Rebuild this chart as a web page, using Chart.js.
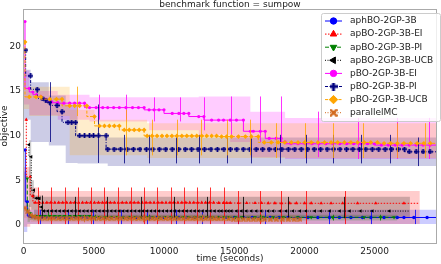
<!DOCTYPE html>
<html><head><meta charset="utf-8">
<script src="https://cdn.jsdelivr.net/npm/chart.js@4.4.0/dist/chart.umd.min.js"></script>
<style>html,body{margin:0;padding:0;background:#fff;overflow:hidden}canvas{display:block}</style>
</head><body>
<canvas id="c" width="441" height="264"></canvas>
<script>
// ---------------- data ----------------
const TITLE = 'benchmark function = sumpow';
const X_LABEL = 'time (seconds)';
const Y_LABEL = 'objective';
const X_TICKS = [0, 5000, 10000, 15000, 20000, 25000];
const Y_TICKS = [0, 5, 10, 15, 20];
const X_RANGE = [-50, 29441];
const Y_RANGE = [-2.02, 24.2];
const SERIES_NAMES = ['aphBO-2GP-3B','apBO-2GP-3B-EI','apBO-2GP-3B-PI','apBO-2GP-3B-UCB','pBO-2GP-3B-EI','pBO-2GP-3B-PI','pBO-2GP-3B-UCB','parallelMC'];

// points [time, objective]
const aphBO = [[113,8.4],[255,2.6],[424,1.0],[587,0.93],[799,0.9],[1011,0.9],[1294,0.88],[1577,0.88],[1860,0.88],[2214,0.87],[2567,0.87],[2921,0.87],[3274,0.86],[3699,0.86],[4123,0.86],[4547,0.86],[4971,0.86],[5396,0.85],[5820,0.85],[6245,0.85],[6669,0.85],[7093,0.85],[7517,0.85],[8012,0.85],[8507,0.85],[9002,0.85],[9497,0.85],[9993,0.85],[10488,0.85],[11054,0.85],[11619,0.85],[12185,0.85],[12751,0.85],[13317,0.85],[13883,0.85],[14448,0.85],[15014,0.85],[15651,0.85],[16287,0.85],[16924,0.85],[17560,0.85],[18197,0.85],[18833,0.85],[19540,0.84],[20248,0.84],[20955,0.84],[21782,0.84],[22489,0.84],[23309,0.84],[24137,0.84],[24724,0.84],[25671,0.84],[26613,0.84],[27086,0.84],[27793,0.84],[28734,0.84]];
const apBO_EI = [[184,11.8],[467,5.4],[658,3.25],[820,2.5],[1082,2.5],[1365,2.5],[1648,2.5],[1931,2.5],[2214,2.5],[2496,2.5],[2779,2.5],[3062,2.5],[3345,2.5],[3628,2.5],[3911,2.5],[4194,2.5],[4477,2.5],[4760,2.5],[5042,2.5],[5325,2.5],[5608,2.5],[5891,2.5],[6174,2.5],[6457,2.5],[6740,2.5],[7023,2.5],[7305,2.5],[7588,2.5],[7871,2.5],[8154,2.5],[8437,2.5],[8720,2.5],[9002,2.5],[9285,2.5],[9568,2.5],[9851,2.5],[10134,2.5],[10417,2.5],[10700,2.5],[10983,2.5],[11266,2.5],[11549,2.5],[11832,2.5],[12114,2.5],[12397,2.5],[12680,2.5],[12963,2.5],[13246,2.5],[13529,2.5],[13897,2.48],[14236,2.48],[14469,2.48],[14710,2.48],[15297,2.46],[15884,2.46],[16478,2.46],[16945,2.46],[17419,2.45],[17892,2.45],[18359,2.45],[18953,2.44],[19420,2.44],[20014,2.44],[20481,2.44],[21188,2.43],[21895,2.43],[22723,2.43],[23784,2.43],[25078,2.43],[27086,2.43]];
const apBO_PI = [[255,5.2],[446,1.3],[587,1.0],[870,1.0],[1153,1.0],[1506,1.0],[1860,1.0],[2214,1.0],[2567,1.0],[2921,1.0],[3274,1.0],[3628,1.0],[3981,1.0],[4335,1.0],[4689,1.0],[5042,0.88],[5396,0.88],[5820,0.88],[6245,0.88],[6669,0.88],[7093,0.87],[7517,0.87],[7942,0.87],[8366,0.87],[8790,0.87],[9215,0.87],[9639,0.87],[10063,0.87],[10488,0.87],[10912,0.87],[11336,0.87],[11761,0.87],[12185,0.87],[12609,0.87],[13034,0.87],[13458,0.87],[13883,0.86],[14236,0.86],[14590,0.86],[15062,0.86],[15530,0.86],[16478,0.86],[17065,0.86],[17772,0.86],[18479,0.86],[19540,0.86],[20481,0.86],[22015,0.86],[24257,0.86],[25431,0.86],[26379,0.86]];
const apBO_UCB = [[375,9.0],[537,7.65],[728,3.9],[891,3.0],[1011,3.0],[1131,3.0],[1273,2.0],[1436,1.57],[1719,1.57],[2001,1.57],[2284,1.57],[2567,1.57],[2850,1.57],[3133,1.57],[3416,1.57],[3699,1.57],[3981,1.57],[4264,1.57],[4547,1.57],[4830,1.57],[5113,1.57],[5396,1.57],[5679,1.57],[5962,1.57],[6245,1.57],[6527,1.57],[6810,1.57],[7093,1.57],[7376,1.57],[7659,1.57],[7942,1.57],[8225,1.57],[8507,1.57],[8790,1.57],[9073,1.57],[9356,1.57],[9639,1.57],[9922,1.57],[10205,1.57],[10488,1.57],[10771,1.57],[11054,1.57],[11336,1.57],[11619,1.57],[11902,1.57],[12185,1.57],[12468,1.57],[12751,1.57],[13034,1.57],[13317,1.57],[13600,1.57],[13883,1.56],[14095,1.56],[14378,1.56],[14590,1.56],[14802,1.56],[15156,1.56],[15509,1.56],[15863,1.56],[16216,1.56],[16570,1.56],[16924,1.56],[17419,1.56],[17772,1.56],[18267,1.56],[18691,1.56],[19186,1.56],[19681,1.56],[20106,1.56],[20742,1.56],[21167,1.56],[21804,1.56],[22511,1.56],[23218,1.56],[23996,1.56],[24844,1.56],[26047,1.56]];
const pBO_EI = [[92,22.8],[396,15.3],[658,14.9],[919,14.6],[1223,14.4],[1577,14.1],[2001,13.8],[2426,13.7],[2850,13.65],[3274,13.65],[3628,13.65],[3981,13.65],[4335,13.65],[4689,13.15],[5163,13.15],[5629,13.15],[5983,13.15],[6407,13.15],[6810,13.15],[7284,13.15],[7751,13.15],[8175,13.15],[8578,13.15],[8932,12.9],[9286,12.9],[9639,12.9],[9993,12.9],[10580,12.5],[11054,12.5],[11407,12.5],[11761,12.5],[12468,12.15],[12836,12.15],[13387,11.75],[13883,11.75],[14236,11.75],[14710,11.75],[15156,11.75],[15651,11.75],[16146,10.5],[16358,10.5],[16853,10.5],[17207,10.5],[17489,9.7],[17984,9.7],[18338,9.7],[18621,9.3],[19045,9.1],[19540,9.1],[20035,9.1],[20530,9.1],[21025,9.1],[21520,9.1],[22015,9.1],[22511,9.1],[23006,9.1],[23501,9.1],[23996,9.1],[24491,9.1],[24986,9.1],[25481,8.95],[25976,8.95],[26471,8.95],[26966,8.95],[27461,8.95],[27956,8.95],[28451,8.95],[28946,8.95]];
const pBO_PI = [[141,19.6],[495,16.7],[962,15.2],[1315,14.2],[1577,14.0],[1860,13.75],[2376,13.4],[2730,12.7],[3154,11.5],[3416,11.5],[3699,11.5],[3981,10.0],[4335,10.0],[4689,10.0],[4971,10.0],[5325,10.0],[5870,10.0],[5983,8.5],[6440,8.5],[6900,8.5],[7360,8.5],[7820,8.5],[8280,8.5],[8740,8.5],[9200,8.5],[9660,8.5],[10120,8.5],[10580,8.5],[11040,8.5],[11500,8.5],[11960,8.5],[12420,8.5],[12880,8.5],[13340,8.5],[13800,8.5],[14260,8.5],[14720,8.5],[15180,8.5],[15640,8.5],[16100,8.5],[16560,8.5],[17020,8.5],[17480,8.5],[17940,8.5],[18390,8.5],[18850,8.5],[19310,8.5],[19770,8.5],[20230,8.5],[20690,8.5],[21150,8.5],[21610,8.5],[22070,8.5],[22530,8.5],[22990,8.5],[23450,8.5],[23910,8.5],[24370,8.5],[24830,8.5],[25290,8.5],[25750,8.5],[26210,8.5],[26670,8.5],[27130,8.5],[27460,8.2],[27955,8.2],[28450,8.2],[28945,8.2]];
const pBO_UCB = [[92,20.5],[396,14.35],[884,14.35],[1223,14.35],[1860,14.1],[2334,14.1],[2730,14.1],[3274,13.35],[3628,13.35],[3981,13.35],[4498,13.35],[5042,12.15],[5396,11.1],[5750,11.1],[6103,11.1],[6457,11.1],[6810,11.1],[7164,10.65],[7517,10.65],[7871,10.65],[8225,10.65],[8578,10.65],[8790,9.98],[9144,9.98],[9497,9.98],[9851,9.98],[10205,9.98],[10558,9.98],[10912,9.98],[11266,9.98],[11619,9.98],[11973,9.98],[12327,9.98],[12680,9.98],[13034,9.98],[13387,9.98],[13741,9.98],[14095,9.9],[14448,9.9],[14802,9.9],[15297,9.9],[15792,9.9],[16216,9.9],[16711,9.9],[17136,9.25],[17631,9.25],[18126,9.25],[18599,9.25],[19066,9.25],[19540,9.25],[20014,9.25],[20481,9.25],[20955,9.25],[21428,9.25],[21895,9.25],[22369,9.25],[22843,9.25],[23309,9.25],[23784,9.25],[24257,9.25],[24724,9.25],[25198,9.25],[25671,9.15],[26138,9.15],[26613,9.15],[27086,9.15],[27553,9.15],[28027,9.15],[28500,9.15],[28967,9.15]];
const parallelMC = [[92,1.9],[304,1.5],[516,1.1],[728,0.95],[941,0.85],[1153,0.78],[1506,0.75],[1825,0.75],[2143,0.75],[2461,0.75],[2779,0.75],[3098,0.75],[3416,0.75],[3734,0.75],[4052,0.75],[4370,0.75],[4689,0.75],[5007,0.75],[5325,0.75],[5643,0.74],[5962,0.74],[6280,0.74],[6598,0.74],[6916,0.74],[7235,0.74],[7553,0.74],[7871,0.74],[8189,0.74],[8507,0.74],[8826,0.72],[9144,0.72],[9462,0.72],[9780,0.72],[10099,0.72],[10417,0.72],[10735,0.7],[11054,0.7],[11372,0.7],[11690,0.7],[12008,0.7],[12327,0.7],[12645,0.7],[12963,0.7],[13281,0.7],[13600,0.7],[13883,0.68],[14236,0.68],[14590,0.68],[14943,0.66],[15297,0.66],[15651,0.66],[16004,0.65],[16358,0.65],[16711,0.65],[17136,0.64],[17560,0.64],[17984,0.64],[18408,0.64],[18833,0.64],[19257,0.64],[19681,0.64]];

// where each line continues past its last marker
const LINE_END = [29441, 28146, 26613, 27510, 29441, 29441, 29441, null];

// spread bands [time, low, high] (step after)
const aphBO_band = [[0,-1.7,13.2],[255,-0.8,6.0],[424,0.1,1.9],[799,0.1,1.7],[29441,0.1,1.7]];
const apBO_EI_band = [[0,-0.2,12.9],[467,-0.2,6.5],[1011,0.1,4.2],[14590,0.1,3.8],[28217,0.1,3.8]];
const apBO_PI_band = [[255,2.8,7.5],[446,0.3,2.3],[658,0.55,1.45],[5042,0.5,1.15],[26613,0.5,1.15]];
const apBO_UCB_band = [[375,4.0,14.0],[537,2.0,9.5],[728,1.7,5.0],[1273,0.7,3.3],[1436,0.75,3.15],[27510,0.75,3.15]];
const pBO_EI_band = [[0,17.5,23.8],[396,13.5,17.3],[2426,12.3,15.0],[4689,11.8,14.6],[8932,11.6,14.3],[12468,10.6,14.3],[14710,10.1,14.4],[16146,9.3,14.4],[18621,7.6,12.7],[23006,7.4,12.0],[29441,7.4,12.0]];
const pBO_PI_band = [[0,14,23],[495,11.8,17.4],[1789,9.3,16.0],[2991,8.9,14.5],[3840,6.95,13.5],[5983,6.9,10.1],[27460,6.6,9.8],[29441,6.6,9.8]];
const pBO_UCB_band = [[0,16.5,22.5],[396,13.0,15.5],[3274,12.2,15.5],[5042,7.8,12.9],[8790,7.8,11.8],[17136,7.5,11.4],[29441,7.5,11.4]];
const parallelMC_band = [[0,1.0,2.9],[304,0.8,2.2],[516,0.5,1.6],[941,0.35,1.2],[1153,0.3,1.15],[19681,0.3,1.15]];

// times where error bars are drawn
const aphBO_err = [1153,3133,4901,6952,8790,10841,12680,15297,17207,21782,24724,27886];
const apBO_EI_err = [1032,1980,2921,3861,4809,5749,6690,7638,8578,9518,10466,11407,12347,13295,14236,15297,16832,18359,20127,22913];
const apBO_PI_err = [1719,5113,8932,12680,16852,22015,25410];
const apBO_UCB_err = [1273,3628,5962,8366,10700,13034,15651,18833,22843];
const pBO_EI_err = [5396,7284,9286,11124,12836,14802,16853,18338,20955,23784,26613,28876];
const pBO_PI_err = [1860,5325,7164,8932,10841,12468,14448,16216,18267,20106,22015,23996,26117,28097];
const pBO_UCB_err = [3769,7305,9144,10912,12609,14448,16146,17984,20035,22015,24137,26613,28593];
const parallelMC_err = [4260,8500,12700,16900];

// ---------------- styling ----------------
function markerCanvas(kind, size, color){
  const c = document.createElement('canvas'); c.width = size; c.height = size;
  const g = c.getContext('2d'); g.fillStyle = color; g.strokeStyle = color;
  const h = size/2;
  if (kind === 'plus'){
    const a = size*0.36;
    g.fillRect(h-a/2, 0, a, size); g.fillRect(0, h-a/2, size, a);
  } else {
    g.lineWidth = size*0.3; g.lineCap = 'butt';
    g.beginPath(); g.moveTo(0.5,0.5); g.lineTo(size-0.5,size-0.5); g.moveTo(size-0.5,0.5); g.lineTo(0.5,size-0.5); g.stroke();
  }
  return c;
}
const STYLE = [
  {color:'#0000ff', rgb:'0,0,255',   dash:[],          marker:'circle',  rot:0,   r:1.7, lr:3.2},
  {color:'#ff0000', rgb:'255,0,0',   dash:[1.5,1.5],   marker:'triangle',rot:0,   r:2.1, lr:3.8},
  {color:'#008000', rgb:'0,128,0',   dash:[4,2],       marker:'triangle',rot:180, r:2.1, lr:3.8},
  {color:'#000000', rgb:'0,0,0',     dash:[1,1.5],     marker:'triangle',rot:-90, r:2.1, lr:3.8},
  {color:'#ff00ff', rgb:'255,0,255', dash:[],          marker:'circle',  rot:0,   r:1.6, lr:3.2},
  {color:'#000080', rgb:'0,0,128',   dash:[3,1.5,1,1.5], marker:'plus',  rot:0,   r:2.5, lr:3.6},
  {color:'#ffa500', rgb:'255,165,0', dash:[3,1.5],     marker:'rectRot', rot:0,   r:2.4, lr:4.2},
  {color:'#d2691e', rgb:'210,105,30',dash:[1,1.5],     marker:'x',       rot:0,   r:2.5, lr:3.6},
];
const POINTS = [aphBO, apBO_EI, apBO_PI, apBO_UCB, pBO_EI, pBO_PI, pBO_UCB, parallelMC];
const BANDS = [aphBO_band, apBO_EI_band, apBO_PI_band, apBO_UCB_band, pBO_EI_band, pBO_PI_band, pBO_UCB_band, parallelMC_band];
const ERRS = [aphBO_err, apBO_EI_err, apBO_PI_err, apBO_UCB_err, pBO_EI_err, pBO_PI_err, pBO_UCB_err, parallelMC_err];

STYLE.forEach(s => {
  if (s.marker === 'plus' || s.marker === 'x') {
    s.ps = markerCanvas(s.marker, 5, s.color);
    s.lps = markerCanvas(s.marker, 8, s.color);
  } else { s.ps = s.marker; s.lps = s.marker; }
});

const datasets = [];
SERIES_NAMES.forEach((name, i) => {
  const st = STYLE[i], band = BANDS[i], pts = POINTS[i];
  const base = datasets.length;
  datasets.push({ _kind:'lo', _s:i, data: band.map(b => ({x:b[0], y:b[1]})), stepped:'after',
    borderColor:'transparent', borderWidth:0, pointRadius:0, fill:false, order: 100 - base });
  datasets.push({ _kind:'hi', _s:i, data: band.map(b => ({x:b[0], y:b[2]})), stepped:'after',
    borderColor:'transparent', borderWidth:0, pointRadius:0, fill:'-1',
    backgroundColor:`rgba(${st.rgb},0.2)`, order: 100 - base - 1 });
  const data = pts.map(p => ({x:p[0], y:p[1]}));
  const nMark = data.length;
  if (LINE_END[i] !== null) data.push({x: LINE_END[i], y: pts[pts.length-1][1]});
  datasets.push({ _kind:'line', _s:i, label:name, data, stepped:'after',
    borderColor: st.color, borderWidth: 1, borderDash: st.dash, fill:false,
    pointStyle: st.ps, pointRotation: st.rot,
    pointRadius: ctx => ctx.dataIndex >= nMark ? 0 : st.r,
    pointBackgroundColor: st.color, pointBorderColor: st.color, pointBorderWidth: 0,
    order: -(base + 2) });
});

function bandAt(band, x){ let k = 0; for (let i = 0; i < band.length; i++) if (band[i][0] <= x) k = i; return band[k]; }

const FONT = '9px "DejaVu Sans"';
const TXT = '#222222';

const decor = {
  id: 'decor',
  beforeDatasetDraw(chart, args){
    const ds = chart.data.datasets[args.index];
    if (ds._kind !== 'line') return;
    const i = ds._s, st = STYLE[i], xs = chart.scales.x, ys = chart.scales.y, ca = chart.chartArea, ctx = chart.ctx;
    ctx.save();
    ctx.beginPath(); ctx.rect(ca.left, ca.top, ca.right-ca.left, ca.bottom-ca.top); ctx.clip();
    ctx.strokeStyle = `rgba(${st.rgb},0.8)`; ctx.lineWidth = 1;
    ERRS[i].forEach(x => {
      const b = bandAt(BANDS[i], x);
      const px = Math.round(xs.getPixelForValue(x)) + 0.5;
      ctx.beginPath(); ctx.moveTo(px, ys.getPixelForValue(b[1])); ctx.lineTo(px, ys.getPixelForValue(b[2])); ctx.stroke();
    });
    ctx.restore();
  },
  afterDraw(chart){
    const ctx = chart.ctx, ca = chart.chartArea;
    ctx.save();
    // frame
    ctx.strokeStyle = '#aaaaaa'; ctx.lineWidth = 1;
    ctx.strokeRect(Math.round(ca.left)+0.5, Math.round(ca.top)+0.5, Math.round(ca.right-ca.left)-1, Math.round(ca.bottom-ca.top));
    // titles
    ctx.fillStyle = TXT; ctx.font = FONT; ctx.textAlign = 'center';
    const cx = (ca.left + ca.right)/2;
    ctx.textBaseline = 'alphabetic'; ctx.fillText(TITLE, cx, 7);
    ctx.textBaseline = 'middle'; ctx.fillText(X_LABEL, cx, 258.5);
    ctx.save(); ctx.translate(4.5, (ca.top+ca.bottom)/2); ctx.rotate(-Math.PI/2);
    ctx.fillText(Y_LABEL, 0, 0); ctx.restore();
    // legend
    const L = {x:321.5, y:13.5, w:119, h:108};
    ctx.beginPath();
    if (ctx.roundRect) ctx.roundRect(L.x, L.y, L.w, L.h, 2); else ctx.rect(L.x, L.y, L.w, L.h);
    ctx.fillStyle = 'rgba(255,255,255,0.8)'; ctx.fill();
    ctx.strokeStyle = '#cccccc'; ctx.lineWidth = 1; ctx.stroke();
    SERIES_NAMES.forEach((name, i) => {
      const st = STYLE[i], y = 21 + i*13.1;
      ctx.save();
      ctx.strokeStyle = st.color; ctx.lineWidth = 1; ctx.setLineDash(st.dash);
      ctx.beginPath(); ctx.moveTo(325, y); ctx.lineTo(342, y); ctx.stroke();
      ctx.setLineDash([]);
      ctx.fillStyle = st.color; ctx.strokeStyle = st.color;
      Chart.helpers.drawPoint(ctx, {pointStyle: st.lps, radius: st.lr, rotation: st.rot, borderWidth: 0.5}, 333.5, y);
      ctx.restore();
      ctx.fillStyle = TXT; ctx.font = FONT; ctx.textAlign = 'left'; ctx.textBaseline = 'middle';
      ctx.fillText(name, 350, y);
    });
    ctx.restore();
  }
};

new Chart(document.getElementById('c'), {
  type: 'line',
  data: { datasets },
  options: {
    responsive: false, animation: false, devicePixelRatio: 1,
    layout: { padding: { top: 9, left: 0, right: 1, bottom: 0 } },
    plugins: { legend: { display: false }, tooltip: { enabled: false }, title: { display: false } },
    elements: { line: { tension: 0 } },
    scales: {
      x: { type: 'linear', min: X_RANGE[0], max: X_RANGE[1],
        grid: { display: false, drawTicks: false }, border: { display: false },
        ticks: { font: { family: 'DejaVu Sans', size: 9 }, color: TXT, padding: 3, maxRotation: 0, autoSkip: false,
          callback: v => String(v) },
        afterBuildTicks: s => { s.ticks = X_TICKS.map(v => ({ value: v })); },
        afterFit: s => { s.height = 21; } },
      y: { type: 'linear', min: Y_RANGE[0], max: Y_RANGE[1],
        grid: { display: false, drawTicks: false }, border: { display: false },
        ticks: { font: { family: 'DejaVu Sans', size: 9 }, color: TXT, padding: 2, autoSkip: false,
          callback: v => String(v) },
        afterBuildTicks: s => { s.ticks = Y_TICKS.map(v => ({ value: v })); },
        afterFit: s => { s.width = 23; } }
    }
  },
  plugins: [decor]
});
</script>
</body></html>
